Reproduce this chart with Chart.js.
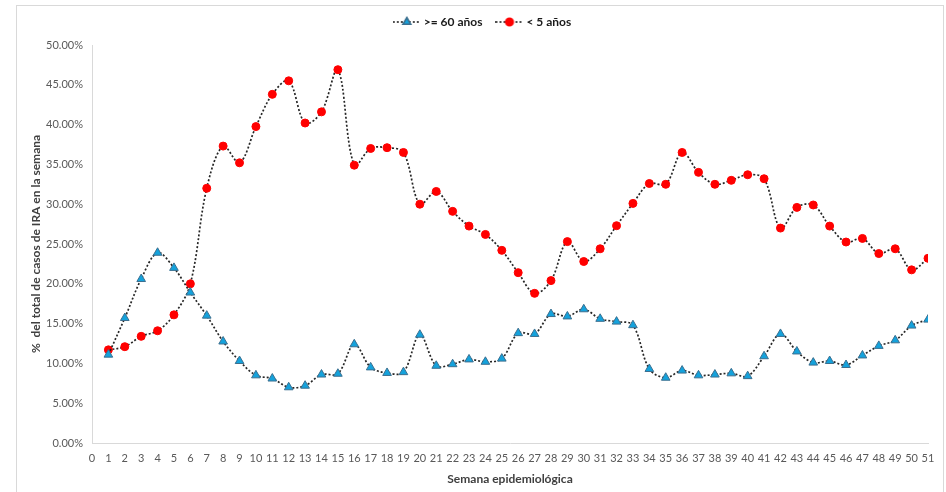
<!DOCTYPE html>
<html>
<head>
<meta charset="utf-8">
<script src="https://cdn.jsdelivr.net/npm/chart.js@4/dist/chart.umd.min.js"></script>
<style>
  html, body { margin: 0; padding: 0; background: #fff; overflow: hidden; }
  #wrap { position: relative; width: 946px; height: 492px; }
  #frame { position: absolute; left: 16px; top: 5px; width: 926px; height: 500px; border: 1px solid #d9d9d9; }
  #c { position: absolute; left: 0; top: 0; }
</style>
</head>
<body>
<div id="wrap">
  <div id="frame"></div>
  <canvas id="c" width="946" height="492"></canvas>
</div>
<script>
// Epidemiological weeks
const weeks = [1, 2, 3, 4, 5, 6, 7, 8, 9, 10, 11, 12, 13, 14, 15, 16, 17, 18, 19, 20,
  21, 22, 23, 24, 25, 26, 27, 28, 29, 30, 31, 32, 33, 34, 35, 36, 37, 38, 39, 40,
  41, 42, 43, 44, 45, 46, 47, 48, 49, 50, 51];

// Share (%) of weekly IRA cases, age 60 and over
const over60 = [11.1, 15.7, 20.6, 23.9, 22.0, 18.9, 16.0, 12.75, 10.3, 8.5,
  8.1, 7.0, 7.2, 8.6, 8.7, 12.4, 9.5, 8.8, 8.9, 13.6,
  9.7, 9.9, 10.5, 10.2, 10.6, 13.8, 13.7, 16.2, 15.9, 16.8,
  15.6, 15.25, 14.8, 9.3, 8.2, 9.1, 8.5, 8.6, 8.75, 8.4,
  10.9, 13.7, 11.5, 10.1, 10.3, 9.8, 11.0, 12.2, 12.9, 14.75, 15.5];

// Share (%) of weekly IRA cases, under 5 years
const under5 = [11.7, 12.1, 13.4, 14.1, 16.1, 20.0, 32.0, 37.3, 35.2, 39.75,
  43.8, 45.5, 40.2, 41.6, 46.9, 34.9, 37.0, 37.1, 36.5, 30.0,
  31.6, 29.1, 27.25, 26.2, 24.2, 21.4, 18.8, 20.4, 25.3, 22.8,
  24.4, 27.3, 30.1, 32.6, 32.5, 36.5, 34.0, 32.5, 33.0, 33.7,
  33.2, 27.0, 29.6, 29.9, 27.25, 25.25, 25.7, 23.8, 24.4, 21.75, 23.2];

const seriesNames = ['>= 60 años', '< 5 años'];
const xTitle = 'Semana epidemiológica';
const yTitle = '%  del total de casos de IRA en la semana';

const FONT = 'Lato, "Open Sans", sans-serif';
const LINE_COLOR = '#262626';
const BLUE = '#14a2dc', BLUE_EDGE = '#3b6f8f';
const RED = '#ff0000';

function toPoints(vals) {
  return weeks.map((w, i) => ({ x: w, y: vals[i] }));
}

// Small legend swatch: dotted line with the series marker in the middle
function legendIcon(style, fill, stroke, radius) {
  const c = document.createElement('canvas');
  c.width = 28; c.height = 14;
  const ctx = c.getContext('2d');
  ctx.strokeStyle = LINE_COLOR;
  ctx.lineWidth = 1.6;
  ctx.setLineDash([2, 2]);
  ctx.beginPath();
  ctx.moveTo(0, 7); ctx.lineTo(28, 7);
  ctx.stroke();
  ctx.setLineDash([]);
  ctx.fillStyle = fill;
  ctx.strokeStyle = stroke;
  Chart.helpers.drawPoint(ctx, { pointStyle: style, radius: radius, borderWidth: 1, rotation: 0 }, 14, 7);
  return c;
}

const icons = [
  legendIcon('triangle', BLUE, BLUE_EDGE, 4.5),
  legendIcon('circle', RED, RED, 3.8)
];

// Extra space under the legend row, and a small nudge of the legend to the right
const legendGap = {
  id: 'legendGap',
  beforeInit(chart) {
    const fit = chart.legend.fit;
    chart.legend.fit = function () {
      fit.call(this);
      this.height += 7;
    };
  },
  afterLayout(chart) {
    chart.legend.left += 7;
    chart.legend.right += 7;
  }
};

const lineStyle = {
  borderColor: LINE_COLOR,
  borderWidth: 1.7,
  borderDash: [2, 2],
  tension: 0.35,
  fill: false
};

new Chart(document.getElementById('c'), {
  type: 'line',
  plugins: [legendGap],
  data: {
    datasets: [
      Object.assign({
        label: seriesNames[0],
        data: toPoints(over60),
        pointStyle: 'triangle',
        pointRadius: 5,
        pointHoverRadius: 5,
        pointBackgroundColor: BLUE,
        pointBorderColor: BLUE_EDGE,
        pointBorderWidth: 1
      }, lineStyle),
      Object.assign({
        label: seriesNames[1],
        data: toPoints(under5),
        pointStyle: 'circle',
        pointRadius: 4,
        pointHoverRadius: 4,
        pointBackgroundColor: RED,
        pointBorderColor: RED,
        pointBorderWidth: 1
      }, lineStyle)
    ]
  },
  options: {
    responsive: false,
    animation: false,
    layout: { padding: { top: 0, left: 25, right: 18, bottom: 0 } },
    plugins: {
      tooltip: { enabled: false },
      legend: {
        position: 'top',
        labels: {
          usePointStyle: true,
          pointStyleWidth: 22,
          padding: 16,
          color: '#1a1a1a',
          font: { family: FONT, size: 12, weight: 'bold' },
          generateLabels: (chart) => chart.data.datasets.map((ds, i) => ({
            text: ds.label,
            pointStyle: icons[i],
            fillStyle: 'transparent',
            strokeStyle: 'transparent',
            lineWidth: 0,
            hidden: false,
            datasetIndex: i,
            fontColor: '#1a1a1a'
          }))
        }
      }
    },
    scales: {
      x: {
        type: 'linear',
        min: 0,
        max: 51,
        afterFit: (s) => { s.height = 49; },
        grid: { display: false, drawTicks: false },
        border: { display: true, color: '#d9d9d9', width: 1 },
        ticks: {
          stepSize: 1,
          autoSkip: false,
          maxRotation: 0,
          padding: 9,
          color: '#595959',
          font: { family: FONT, size: 11 }
        },
        title: {
          display: true,
          text: xTitle,
          color: '#404040',
          padding: { top: 6, bottom: 6 },
          font: { family: FONT, size: 12, weight: 'bold' }
        }
      },
      y: {
        min: 0,
        max: 50,
        afterFit: (s) => { s.width = 67; },
        grid: { display: false, drawTicks: false },
        border: { display: true, color: '#d9d9d9', width: 1 },
        ticks: {
          stepSize: 5,
          padding: 9,
          color: '#595959',
          font: { family: FONT, size: 11 },
          callback: (v) => v.toFixed(2) + '%'
        },
        title: {
          display: true,
          text: yTitle,
          color: '#404040',
          padding: { top: 4, bottom: 4 },
          font: { family: FONT, size: 12, weight: 'bold' }
        }
      }
    }
  }
});
</script>
</body>
</html>
